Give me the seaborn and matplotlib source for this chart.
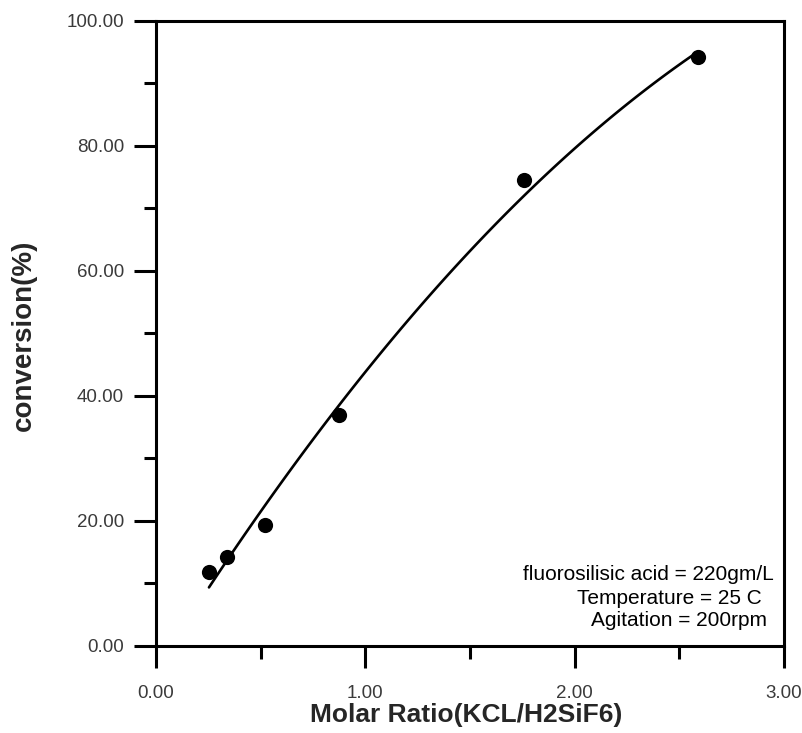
import matplotlib
matplotlib.use("Agg")
import matplotlib.pyplot as plt
import seaborn as sns
import numpy as np
import pandas as pd
from matplotlib.ticker import MultipleLocator, FormatStrFormatter

molar_ratio = [0.253, 0.339, 0.521, 0.874, 1.758, 2.59]
conversion = [11.8, 14.2, 19.4, 37.0, 74.6, 94.2]
notes = ["fluorosilisic acid = 220gm/L", "Temperature = 25 C", "Agitation = 200rpm"]

df = pd.DataFrame({"x": molar_ratio, "y": conversion})

sns.set_style("white")
plt.rcParams['font.family'] = ['Liberation Sans', 'DejaVu Sans']

fig = plt.figure(figsize=(8.02, 7.33), dpi=100)
ax = fig.add_axes([0.1945, 0.1187, 0.9776 - 0.1945, 0.9714 - 0.1187])

sns.regplot(data=df, x="x", y="y", order=2, ci=None, scatter=False, truncate=True,
            line_kws=dict(color="black", lw=1.9), ax=ax)
sns.scatterplot(data=df, x="x", y="y", color="black", s=120, edgecolor="black",
                linewidth=0, ax=ax, zorder=5)

ax.set_xlim(0, 3)
ax.set_ylim(0, 100)
ax.xaxis.set_major_locator(MultipleLocator(1))
ax.xaxis.set_minor_locator(MultipleLocator(0.5))
ax.yaxis.set_major_locator(MultipleLocator(20))
ax.yaxis.set_minor_locator(MultipleLocator(10))
ax.xaxis.set_major_formatter(FormatStrFormatter("%.2f"))
ax.yaxis.set_major_formatter(FormatStrFormatter("%.2f"))

for s in ax.spines.values():
    s.set_linewidth(2.2)
    s.set_color("black")
    s.set_visible(True)

ax.tick_params(which="major", direction="out", length=16, width=2.2, color="black",
               labelsize=13.5, labelcolor="#3a3a3a", pad=7,
               bottom=True, left=True, top=False, right=False)
ax.tick_params(which="minor", direction="out", length=9, width=2.2, color="black",
               bottom=True, left=True, top=False, right=False)
ax.tick_params(axis="x", which="major", pad=12)

ax.set_xlabel("Molar Ratio(KCL/H2SiF6)", fontsize=19, fontweight="bold")
ax.set_ylabel("conversion(%)", fontsize=20, fontweight="bold")
ax.xaxis.set_label_coords(0.494, -0.092)
ax.yaxis.set_label_coords(-0.19, 0.497)

ys = [575, 598, 621]
xs = [774, 762, 767]
for t, px, py in zip(notes, xs, ys):
    fig.text(px / 802, 1 - py / 733, t, ha="right", va="center", fontsize=15, color="black")

fig.savefig("out.png", dpi=100)
